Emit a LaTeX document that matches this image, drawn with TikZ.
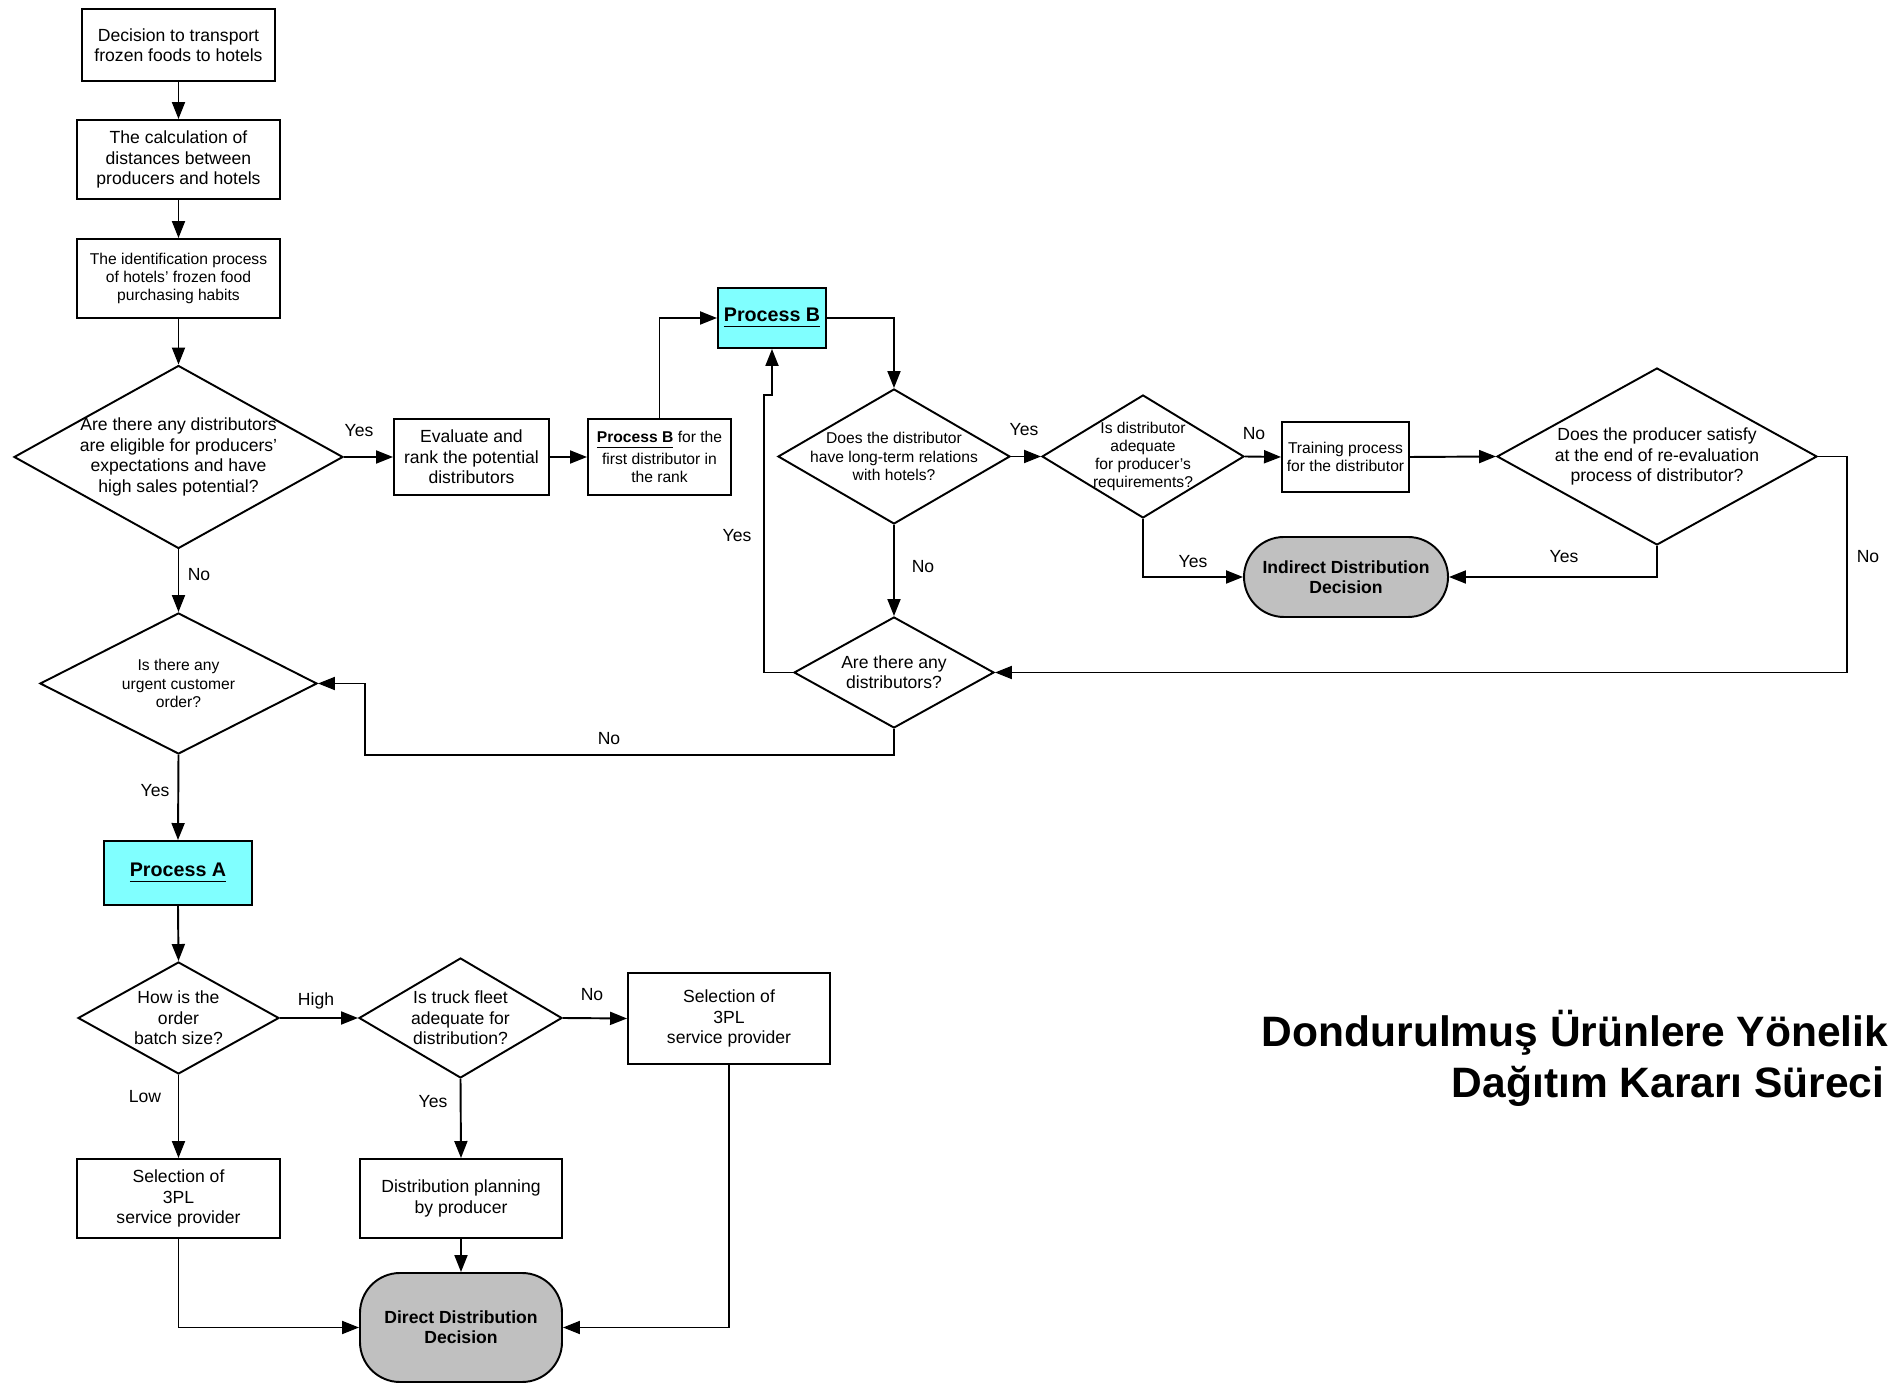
\documentclass[tikz,border=0pt]{standalone}
\usepackage{fontspec}
\setmainfont{Liberation Sans}
\usetikzlibrary{shapes.geometric,arrows.meta}

\definecolor{procfill}{HTML}{80FFFF}
\definecolor{endfill}{HTML}{C0C0C0}
\newcommand{\flowfont}{\fontsize{5}{5.8}\selectfont}
\newcommand{\flowsmall}{\fontsize{4.45}{5.2}\selectfont}
\newcommand{\procfont}{\fontsize{5.6}{6.5}\selectfont\bfseries}
\newcommand{\headfont}{\fontsize{12.1}{14}\selectfont\bfseries}

\begin{document}
\begin{tikzpicture}[
    line width=0.55pt,
    >={Triangle[length=1.7mm,width=1.3mm]},
    box/.style={draw, rectangle, inner sep=0pt, align=center, font=\flowfont},
    dec/.style={draw, diamond, aspect=1.8, inner sep=-4pt, align=center, font=\flowfont},
    proc/.style={box, fill=procfill, font=\procfont},
    term/.style={box, fill=endfill, rounded corners=0.4cm, font=\flowfont\bfseries},
    lab/.style={font=\flowfont, inner sep=0pt}
]

\useasboundingbox (0,0) rectangle (18.88,-13.84);

% Start of the process (left column)
\node[box, minimum width=1.93cm, minimum height=0.72cm] (start) at (1.785,-0.45) {Decision to transport\\frozen foods to hotels};
\node[box, minimum width=2.03cm, minimum height=0.79cm] (calc) at (1.785,-1.595) {The calculation of\\distances between\\producers and hotels};
\node[box, minimum width=2.03cm, minimum height=0.79cm, font=\flowsmall] (ident) at (1.785,-2.785) {The identification process\\of hotels' frozen food\\purchasing habits};
\node[dec, minimum width=3.29cm, minimum height=1.83cm] (elig) at (1.785,-4.57) {Are there any distributors\\are eligible for producers'\\expectations and have\\high sales potential?};
\node[dec, minimum width=2.77cm, minimum height=1.41cm, font=\flowsmall] (urgent) at (1.785,-6.835) {Is there any\\urgent customer\\order?};

% Ranking of distributors and Process B
\node[box, minimum width=1.55cm, minimum height=0.76cm] (evalrank) at (4.715,-4.57) {Evaluate and\\rank the potential\\distributors};
\node[box, minimum width=1.43cm, minimum height=0.76cm, font=\flowsmall] (rankB) at (6.595,-4.57) {\textbf{\underline{Process B}} for the\\first distributor in\\the rank};
\node[proc, minimum width=1.08cm, minimum height=0.60cm] (procB) at (7.72,-3.18) {\underline{Process B}};
\node[dec, minimum width=2.32cm, minimum height=1.35cm, font=\flowsmall] (longterm) at (8.94,-4.565) {Does the distributor\\have long-term relations\\with hotels?};
\node[dec, minimum width=2.02cm, minimum height=1.23cm, font=\flowsmall] (adequate) at (11.43,-4.565) {Is distributor\\adequate\\for producer's\\requirements?};
\node[box, minimum width=1.27cm, minimum height=0.70cm, font=\flowsmall] (training) at (13.455,-4.57) {Training process\\for the distributor};
\node[dec, minimum width=3.20cm, minimum height=1.77cm] (satisfy) at (16.57,-4.565) {Does the producer satisfy\\at the end of re-evaluation\\process of distributor?};
\node[term, minimum width=2.04cm, minimum height=0.80cm] (indirect) at (13.46,-5.77) {Indirect Distribution\\Decision};
\node[dec, minimum width=2.00cm, minimum height=1.11cm] (anydist) at (8.94,-6.725) {Are there any\\distributors?};

% Process A (bottom part)
\node[proc, minimum width=1.48cm, minimum height=0.64cm] (procA) at (1.78,-8.73) {\underline{Process A}};
\node[dec, minimum width=2.01cm, minimum height=1.12cm] (batch) at (1.785,-10.18) {How is the\\order\\batch size?};
\node[dec, minimum width=2.03cm, minimum height=1.20cm] (truck) at (4.605,-10.18) {Is truck fleet\\adequate for\\distribution?};
\node[box, minimum width=2.02cm, minimum height=0.91cm] (tplB) at (7.29,-10.185) {Selection of\\3PL\\service provider};
\node[box, minimum width=2.03cm, minimum height=0.79cm] (tplA) at (1.785,-11.985) {Selection of\\3PL\\service provider};
\node[box, minimum width=2.02cm, minimum height=0.79cm] (plan) at (4.61,-11.985) {Distribution planning\\by producer};
\node[term, minimum width=2.02cm, minimum height=1.09cm] (direct) at (4.61,-13.275) {Direct Distribution\\Decision};

% Bend points of the long connectors
\coordinate (jog) at (7.64,-3.95);
\coordinate (nobend) at (3.65,-7.55);

% Connectors
\draw[->] (start) -- (calc);
\draw[->] (calc) -- (ident);
\draw[->] (ident) -- (elig);
\draw[->] (elig.east) -- (evalrank.west);
\draw[->] (evalrank.east) -- (rankB.west);
\draw[->] (rankB.north) |- (procB.west);
\draw[->] (procB.east) -| (longterm.north);
\draw[->] (longterm.east) -- (adequate.west);
\draw[->] (adequate.east) -- (training.west);
\draw[->] (training.east) -- (satisfy.west);
\draw[->] (adequate.south) |- (indirect.west);
\draw[->] (satisfy.south) |- (indirect.east);
\draw[->] (satisfy.east) -- ++(0.29,0) |- (anydist.east);
\draw[->] (longterm.south) -- (anydist.north);
\draw[->] (anydist.west) -| (jog) -| (procB.south);
\draw[->] (anydist.south) |- (nobend) |- (urgent.east);
\draw[->] (elig.south) -- (urgent.north);
\draw[->] (urgent.south) -- (procA.north);
\draw[->] (procA.south) -- (batch.north);
\draw[->] (batch.east) -- (truck.west);
\draw[->] (truck.east) -- (tplB.west);
\draw[->] (batch.south) -- (tplA.north);
\draw[->] (truck.south) -- (plan.north);
\draw[->] (plan.south) -- (direct.north);
\draw[->] (tplA.south) |- (direct.west);
\draw[->] (tplB.south) |- (direct.east);

% Yes / No labels
\node[lab] (yesA) at (3.59,-4.31) {Yes};
\node[lab] (noA) at (1.99,-5.75) {No};
\node[lab] (yesB) at (7.37,-5.36) {Yes};
\node[lab] (noB) at (6.09,-7.39) {No};
\node[lab] (yesC) at (10.24,-4.30) {Yes};
\node[lab] (noC) at (12.54,-4.34) {No};
\node[lab] (noD) at (9.23,-5.67) {No};
\node[lab] (yesD) at (11.93,-5.62) {Yes};
\node[lab] (yesE) at (15.64,-5.57) {Yes};
\node[lab] (noE) at (18.68,-5.57) {No};
\node[lab] (yesF) at (1.55,-7.91) {Yes};
\node[lab] (high) at (3.16,-10.01) {High};
\node[lab] (noF) at (5.92,-9.95) {No};
\node[lab] (low) at (1.45,-10.97) {Low};
\node[lab] (yesG) at (4.33,-11.02) {Yes};

% Title
\node[anchor=base west, inner sep=0pt, font=\headfont] (titleA) at (12.61,-10.47) {Dondurulmuş Ürünlere Yönelik};
\node[anchor=base west, inner sep=0pt, font=\headfont] (titleB) at (14.51,-10.98) {Dağıtım Kararı Süreci};

\end{tikzpicture}
\end{document}
